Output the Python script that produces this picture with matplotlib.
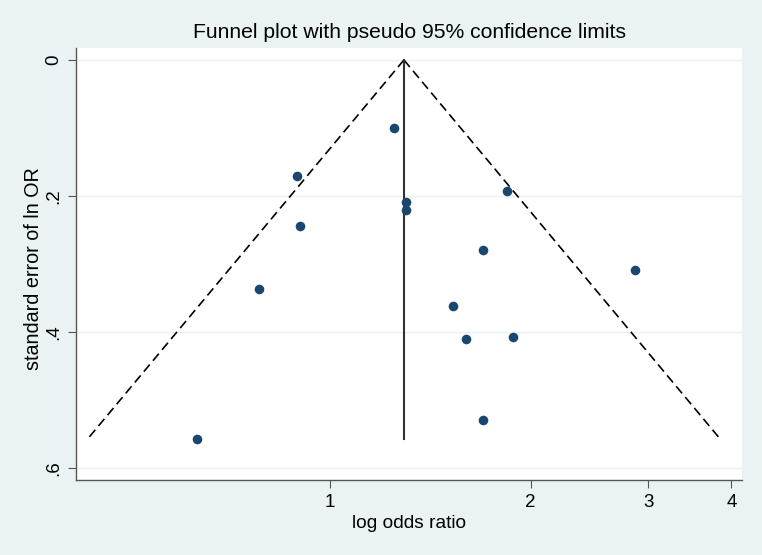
import numpy as np
import matplotlib
matplotlib.use('Agg')
import matplotlib.pyplot as plt
from matplotlib.ticker import FixedLocator, NullLocator

plt.rcParams['font.family'] = ['Liberation Sans', 'DejaVu Sans']

# study odds ratios and standard errors of ln OR
odds_ratio = [1.249, 0.891, 0.902, 1.300, 1.300, 1.845, 1.698, 2.868,
              0.782, 1.531, 1.598, 1.884, 1.698, 0.632]
se_ln_or = [0.100, 0.171, 0.244, 0.209, 0.220, 0.193, 0.280, 0.309,
            0.337, 0.362, 0.410, 0.407, 0.529, 0.558]
pooled_or = 1.291
max_se = 0.557

x_ticks = [1, 2, 3, 4]
x_labels = ['1', '2', '3', '4']
y_ticks = [0, 0.2, 0.4, 0.6]
y_labels = ['0', '.2', '.4', '.6']

bg = '#eaf2f3'
navy = '#1a476f'

fig = plt.figure(figsize=(7.62, 5.55), dpi=100, facecolor=bg)
ax = fig.add_axes([0.0997, 0.1351, 0.8741, 0.7784])
ax.set_facecolor('white')

# pseudo 95% limits
se_line = np.array([0, max_se])
lo = np.exp(np.log(pooled_or) - 1.96 * se_line)
hi = np.exp(np.log(pooled_or) + 1.96 * se_line)
ax.plot(lo, se_line, color='black', lw=1.2, ls=(0, (5.5, 3)))
ax.plot(hi, se_line, color='black', lw=1.2, ls=(0, (5.5, 3)))
ax.plot([pooled_or, pooled_or], [0, max_se], color='#333333', lw=1.5)

ax.scatter(odds_ratio, se_ln_or, s=48, color=navy, zorder=3, linewidths=0)

ax.set_xscale('log')
ax.set_xlim(0.416, 4.15)
ax.set_ylim(0.6176, -0.0176)
ax.xaxis.set_major_locator(FixedLocator(x_ticks))
ax.xaxis.set_minor_locator(NullLocator())
ax.set_xticklabels(x_labels)
ax.set_yticks(y_ticks)
ax.set_yticklabels(y_labels, rotation=90, va='center')

ax.grid(axis='y', color=bg, lw=1.0)
ax.set_axisbelow(True)
for s in ['top', 'right']:
    ax.spines[s].set_visible(False)
for s in ['left', 'bottom']:
    ax.spines[s].set_color('#555555')
    ax.spines[s].set_linewidth(1.0)
ax.tick_params(axis='both', length=6, color='#555555', labelsize=13.5, pad=4)

ax.set_title('Funnel plot with pseudo 95% confidence limits', fontsize=15.2, pad=7)
ax.set_xlabel('log odds ratio', fontsize=13.8, labelpad=3)
ax.set_ylabel('standard error of ln OR', fontsize=14.2)
ax.yaxis.set_label_coords(-0.0495, 0.49)

fig.savefig('out.png', dpi=100, facecolor=bg)
